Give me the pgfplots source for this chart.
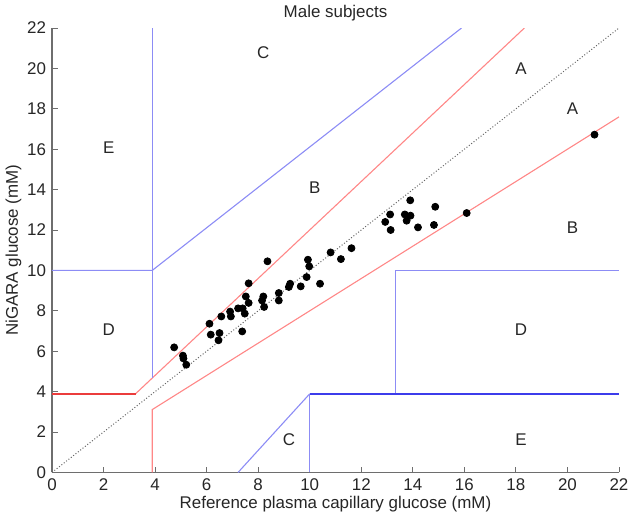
\documentclass[border=0pt]{standalone}
\usepackage{pgfplots}
\pgfplotsset{compat=1.18}
\usepackage{fontspec}
\setmainfont{Liberation Sans}
\definecolor{zlred}{RGB}{255,135,135}
\definecolor{zdred}{RGB}{235,60,60}
\definecolor{zlblue}{RGB}{140,140,245}
\definecolor{zdblue}{RGB}{60,60,235}
\definecolor{axgray}{RGB}{110,110,110}
\begin{document}
\fontsize{8.5}{10}\selectfont
\begin{tikzpicture}
\begin{axis}[
  scale only axis,
  width=283.5bp, height=222.2bp,
  xmin=0, xmax=22, ymin=0, ymax=22,
  xtick={0,2,...,22}, ytick={0,2,...,22},
  axis x line*=bottom, axis y line*=left,
  axis line style={axgray, line width=0.6bp},
  tick style={axgray, line width=0.5bp},
  tick align=inside,
  major tick length=2.8bp,
  /pgf/number format/assume math mode=true,
  tick label style={font=\fontsize{8.5}{10}\selectfont, text=black!85},
  xlabel={Reference plasma capillary glucose (mM)},
  ylabel={NiGARA glucose (mM)},
  label style={font=\fontsize{8.5}{10}\selectfont, text=black!85},
  xlabel style={yshift=3bp},
  ylabel style={yshift=-3bp},
  title={Male subjects},
  every axis title/.style={at={(0.5,1)}, anchor=base, yshift=5.5bp, font=\fontsize{8.5}{10}\selectfont, text=black!85},
  clip=true,
]
% identity line
\addplot[color=gray!80!black, densely dotted, line width=0.5bp] coordinates {(0,0) (22,22)};
% red (zone A boundaries)
\addplot[color=zlred, line width=0.55bp] coordinates {(3.24,3.89) (18.33,22)};
\addplot[color=zlred, line width=0.55bp] coordinates {(3.89,0) (3.89,3.11) (22,17.6)};
\addplot[color=zdred, line width=0.7bp] coordinates {(0,3.89) (3.24,3.89)};
% blue boundaries
\addplot[color=zlblue, line width=0.55bp] coordinates {(3.89,4.67) (3.89,22)};
\addplot[color=zlblue, line width=0.55bp] coordinates {(0,10) (3.89,10) (15.89,22)};
\addplot[color=zlblue, line width=0.55bp] coordinates {(7.22,0) (10,3.89)};
\addplot[color=zlblue, line width=0.55bp] coordinates {(10,0) (10,3.89)};
\addplot[color=zlblue, line width=0.55bp] coordinates {(13.33,3.89) (13.33,10) (22,10)};
\addplot[color=zdblue, line width=0.7bp] coordinates {(10,3.89) (22,3.89)};
% data
\addplot[only marks, mark=*, mark size=1.75bp, black] table {
x y
4.74 6.19
5.08 5.78
5.10 5.64
5.21 5.33
6.11 7.36
6.16 6.82
6.50 6.90
6.46 6.54
6.57 7.72
6.91 7.96
6.94 7.72
7.22 8.12
7.40 8.12
7.38 6.98
7.48 7.86
7.52 8.71
7.63 8.39
7.63 9.36
8.15 8.51
8.20 8.71
8.23 8.19
8.36 10.45
8.80 8.88
8.80 8.51
9.19 9.18
9.24 9.34
9.65 9.21
9.88 9.67
9.93 10.53
9.98 10.20
10.40 9.34
10.81 10.89
11.21 10.56
11.62 11.10
12.93 12.40
13.12 12.77
13.14 12.00
13.69 12.77
13.76 12.46
13.90 13.47
13.91 12.71
14.20 12.13
14.82 12.25
14.87 13.15
16.09 12.84
21.05 16.72
};
% zone labels
\begin{scope}[every node/.style={font=\fontsize{8.5}{10}\selectfont, text=black!85}]
\node at (axis cs:18.2,20.0) {A};
\node at (axis cs:20.2,18.0) {A};
\node at (axis cs:8.2,20.8) {C};
\node at (axis cs:2.2,16.1) {E};
\node at (axis cs:10.2,14.1) {B};
\node at (axis cs:20.2,12.1) {B};
\node at (axis cs:2.2,7.05) {D};
\node at (axis cs:18.2,7.05) {D};
\node at (axis cs:9.2,1.6) {C};
\node at (axis cs:18.2,1.6) {E};
\end{scope}
\end{axis}
\pgfresetboundingbox
\useasboundingbox ([xshift=-26bp,yshift=-24bp]current axis.south west) rectangle ([xshift=4.5bp,yshift=14bp]current axis.north east);
\end{tikzpicture}
\end{document}
